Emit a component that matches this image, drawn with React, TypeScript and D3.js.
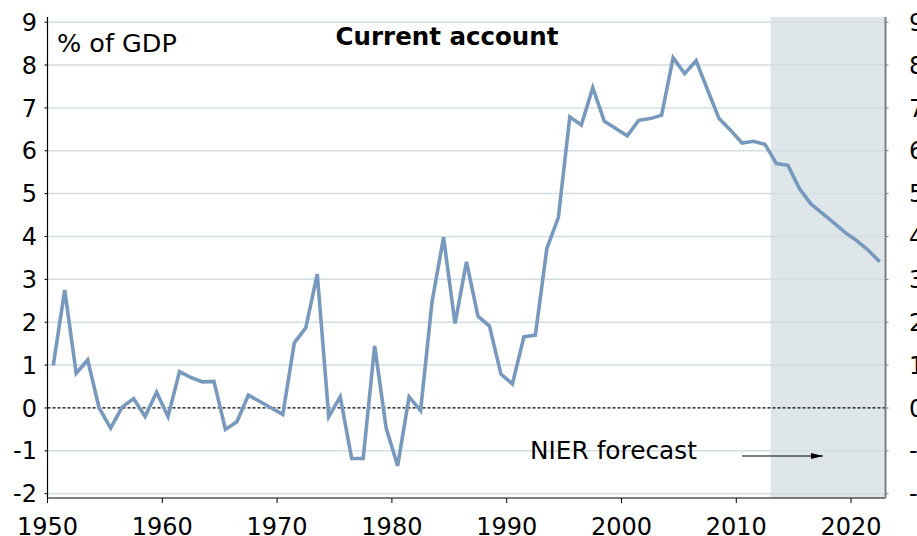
import React from "react";
import * as d3 from "d3";

// current account, % of GDP, 1950-2022 (from 2013 = NIER forecast)
const years = d3.range(1950, 2023);
const values = [
  0.99, 2.75, 0.81, 1.12, 0.0, -0.47, 0.02, 0.22, -0.2, 0.37,
  -0.2, 0.85, 0.71, 0.61, 0.62, -0.5, -0.32, 0.3, 0.15, 0.0,
  -0.15, 1.52, 1.87, 3.12, -0.2, 0.26, -1.18, -1.18, 1.45, -0.47,
  -1.35, 0.26, -0.06, 2.48, 3.98, 1.97, 3.41, 2.14, 1.91, 0.79,
  0.56, 1.66, 1.7, 3.72, 4.44, 6.79, 6.6, 7.47, 6.69, 6.52,
  6.35, 6.71, 6.75, 6.83, 8.17, 7.8, 8.1, 7.42, 6.75, 6.48,
  6.18, 6.22, 6.15, 5.7, 5.66, 5.12, 4.76, 4.54, 4.32, 4.09,
  3.9, 3.68, 3.41,
];
const yTicks = [-2, -1, 0, 1, 2, 3, 4, 5, 6, 7, 8, 9];
const xTicks = [1950, 1960, 1970, 1980, 1990, 2000, 2010, 2020];
const forecastStart = 2013;

const W = 917;
const H = 536;
const left = 47.5;
const right = 885.5;
const top = 17;
const bottom = 498;
const font = "'DejaVu Sans', Verdana, sans-serif";

export default function App() {
  const x = d3.scaleLinear().domain([1950, 2023]).range([left, right]);
  const y = d3.scaleLinear().domain([-2.1, 9.12]).range([bottom, top]);

  const line = d3
    .line<number>()
    .x((d, i) => x(years[i] + 0.5))
    .y((d) => y(d));

  return (
    <div style={{ position: "fixed", left: 0, top: 0 }}>
      <svg width={W} height={H} style={{ display: "block", fontFamily: font }}>
        <defs>
          <marker id="arr" viewBox="0 0 12 6" refX="12" refY="3" markerWidth="12" markerHeight="6" markerUnits="userSpaceOnUse" orient="auto">
            <path d="M0,0 L12,3 L0,6 Z" fill="#000" />
          </marker>
        </defs>
        <rect x={0} y={0} width={W} height={H} fill="#fff" />
        {/* forecast shading */}
        <rect
          x={x(forecastStart)}
          y={top}
          width={right - x(forecastStart)}
          height={bottom - top}
          fill="#dfe6ea"
        />
        {/* gridlines */}
        {yTicks
          .filter((t) => t !== 0)
          .map((t) => (
            <line key={t} x1={left} x2={right} y1={y(t)} y2={y(t)} stroke="#d3dde4" strokeWidth={1.5} />
          ))}
        <line x1={left} x2={right} y1={y(0)} y2={y(0)} stroke="#000" strokeWidth={1.2} strokeDasharray="3,2" />

        <path d={line(values) || ""} fill="none" stroke="#7899be" strokeWidth={3.6} strokeLinejoin="miter" />

        {/* axes */}
        <line x1={left} x2={left} y1={top} y2={bottom} stroke="#000" strokeWidth={1.2} />
        <line x1={left} x2={right} y1={bottom} y2={bottom} stroke="#000" strokeWidth={1.2} />
        <line x1={right} x2={right} y1={top} y2={bottom} stroke="#7f7f7f" strokeWidth={2} />
        {yTicks.map((t) => (
          <g key={t}>
            <line x1={left - 3} x2={left} y1={y(t)} y2={y(t)} stroke="#000" strokeWidth={1} />
            <line x1={right} x2={right + 3} y1={y(t)} y2={y(t)} stroke="#7f7f7f" strokeWidth={1} />
            <text x={37} y={y(t)} dy="0.36em" textAnchor="end" fontSize={24} fill="#000">
              {t}
            </text>
            <text x={909} y={y(t)} dy="0.36em" textAnchor="start" fontSize={24} fill="#000">
              {t}
            </text>
          </g>
        ))}
        {xTicks.map((t) => (
          <g key={t}>
            <line x1={x(t)} x2={x(t)} y1={bottom} y2={bottom + 5} stroke="#000" strokeWidth={1} />
            <text x={x(t)} y={535} textAnchor="middle" fontSize={24} fill="#000">
              {t}
            </text>
          </g>
        ))}

        <text x={57} y={52} fontSize={25.5} fill="#000">% of GDP</text>
        <text x={447} y={45} textAnchor="middle" fontSize={24.5} fontWeight="bold" fill="#000">
          Current account
        </text>
        <text x={530} y={459} fontSize={24.8} fill="#000">NIER forecast</text>
        <line x1={742} x2={823} y1={456} y2={456} stroke="#000" strokeWidth={1.2} markerEnd="url(#arr)" />
      </svg>
    </div>
  );
}
